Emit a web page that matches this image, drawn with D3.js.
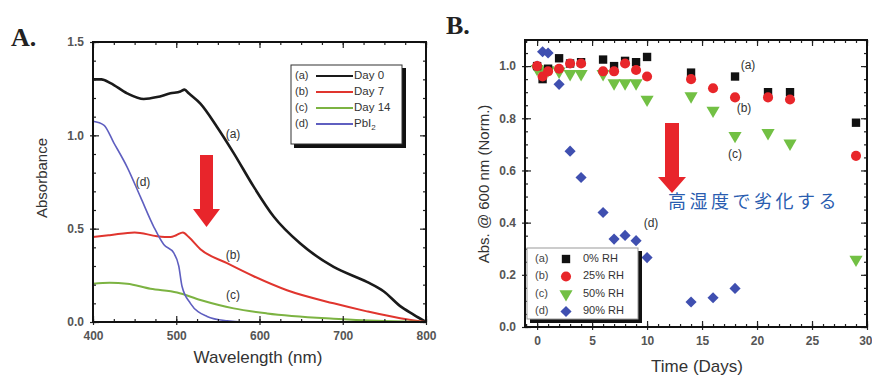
<!DOCTYPE html>
<html><head><meta charset="utf-8">
<script src="https://cdn.jsdelivr.net/npm/d3@7"></script>
<style>body{margin:0;background:#fff}svg{display:block;font-family:Arial,"Liberation Sans",sans-serif}</style>
</head><body>
<svg id="c" width="872" height="383"></svg>
<script>
// Panel A: absorbance spectra [wavelength nm, absorbance]
const specDay0 = [[400,1.30],[410,1.30],[421,1.28],[441,1.225],[461,1.195],[477,1.205],[493,1.225],[505,1.235],[510,1.245],[515,1.225],[529,1.17],[549,1.045],[569,0.905],[593,0.725],[617,0.565],[649,0.42],[689,0.295],[729,0.215],[749,0.165],[769,0.085],[785,0.04],[800,0.0]];
const specDay7 = [[400,0.455],[420,0.465],[450,0.48],[477,0.46],[493,0.455],[500,0.465],[508,0.48],[515,0.455],[529,0.39],[561,0.315],[593,0.245],[633,0.17],[689,0.10],[729,0.057],[769,0.02],[800,0.0]];
const specDay14 = [[400,0.205],[420,0.21],[441,0.205],[469,0.178],[501,0.158],[529,0.118],[569,0.073],[609,0.046],[689,0.018],[750,0.006],[800,0.0]];
const specPbI2 = [[400,1.075],[413,1.055],[425,0.96],[441,0.83],[457,0.67],[473,0.51],[485,0.415],[497,0.37],[503,0.30],[507,0.19],[517,0.10],[537,0.03],[561,0.006],[580,0.0],[800,0.0]];
const specNames = ["Day 0","Day 7","Day 14","PbI"];
const specTags = ["(a)","(b)","(c)","(d)"];
const aXTicks = [400,500,600,700,800];
const aYTicks = [0.0,0.5,1.0,1.5];

// Panel B: normalized absorbance at 600 nm vs time (days)
const daysA = [0,0.5,1,2,3,4,6,7,8,9,10,14,18,21,23,29];
const rh0   = [1.0,0.95,0.99,1.03,1.01,1.015,1.025,1.0,1.02,1.015,1.035,0.975,0.96,0.90,0.90,0.783];
const daysB = [0,0.5,1,2,3,4,6,7,8,9,10,14,16,18,21,23,29];
const rh25  = [1.0,0.96,0.98,0.99,1.01,1.01,0.98,0.98,1.01,0.985,0.96,0.95,0.915,0.88,0.88,0.872,0.656];
const rh50  = [0.99,0.98,0.985,0.98,0.97,0.97,0.97,0.935,0.935,0.935,0.872,0.885,0.83,0.733,0.744,0.704,0.259];
const daysD = [0,0.5,1,2,3,4,6,7,8,9,10,14,16,18];
const rh90  = [1.0,1.055,1.05,0.93,0.674,0.573,0.439,0.337,0.351,0.331,0.266,0.096,0.112,0.148];
const rhNames = ["0% RH","25% RH","50% RH","90% RH"];
const bXTicks = [0,5,10,15,20,25,30];
const bYTicks = [0.0,0.2,0.4,0.6,0.8,1.0];

const svg = d3.select("#c");
const tickCol = "#555";

function frame(g, x, y, xMajor, xMinor, yMajor, yMinor, xFmt, yFmt){
  const [x0,x1] = x.range(), [y0,y1] = y.range();
  const ax = (sel, axis) => { sel.call(axis); sel.select(".domain").remove(); sel.selectAll("line").attr("stroke","#222").attr("stroke-width",1.2); sel.selectAll("text").attr("fill",tickCol).style("font-size","12px").style("font-weight","bold"); };
  const gx = g.append("g").attr("transform",`translate(0,${y0})`);
  ax(gx, d3.axisBottom(x).tickValues(xMinor).tickSize(-3).tickFormat(""));
  const gxt = g.append("g").attr("transform",`translate(0,${y1})`);
  ax(gxt, d3.axisTop(x).tickValues(xMinor).tickSize(-3).tickFormat(""));
  const gy = g.append("g").attr("transform",`translate(${x0},0)`);
  ax(gy, d3.axisLeft(y).tickValues(yMinor).tickSize(-3).tickFormat(""));
  const gyr = g.append("g").attr("transform",`translate(${x1},0)`);
  ax(gyr, d3.axisRight(y).tickValues(yMinor).tickSize(-3).tickFormat(""));
  const gX = g.append("g").attr("transform",`translate(0,${y0})`);
  ax(gX, d3.axisBottom(x).tickValues(xMajor).tickSizeInner(-6).tickSizeOuter(0).tickPadding(9).tickFormat(xFmt));
  gX.selectAll("line").attr("y2",-6).attr("y1",3);
  const gXt = g.append("g").attr("transform",`translate(0,${y1})`);
  ax(gXt, d3.axisTop(x).tickValues(xMajor).tickSize(-6).tickFormat(""));
  const gY = g.append("g").attr("transform",`translate(${x0},0)`);
  ax(gY, d3.axisLeft(y).tickValues(yMajor).tickSizeInner(-6).tickSizeOuter(0).tickPadding(9).tickFormat(yFmt));
  gY.selectAll("line").attr("x2",6).attr("x1",-3);
  const gYr = g.append("g").attr("transform",`translate(${x1},0)`);
  ax(gYr, d3.axisRight(y).tickValues(yMajor).tickSize(-6).tickFormat(""));
  g.append("rect").attr("x",x0).attr("y",y1).attr("width",x1-x0).attr("height",y0-y1)
    .attr("fill","none").attr("stroke","#111").attr("stroke-width",2);
  return gX;
}

// ---------- Panel A ----------
const xA = d3.scaleLinear().domain([400,800]).range([93,426]);
const yA = d3.scaleLinear().domain([0,1.5]).range([322,42]);
const gA = svg.append("g");
const line = d3.line().x(d=>xA(d[0])).y(d=>yA(d[1])).curve(d3.curveMonotoneX);
const specs = [specDay0, specDay7, specDay14, specPbI2];
const specCols = ["#1a1a1a","#e0352e","#7cb342","#5f5fc0"];
const specW = [2.6,2,2,1.6];
specs.forEach((s,i)=>{
  gA.append("path").datum(s).attr("d",line).attr("fill","none").attr("stroke",specCols[i]).attr("stroke-width",specW[i]);
});
frame(gA, xA, yA, aXTicks, d3.range(400,801,25), aYTicks, d3.range(0,1.51,0.1), d3.format("d"), d3.format(".1f"));

const tagA = [[233,135],[233,256],[233,296],[143,183]];
tagA.forEach((p,i)=>gA.append("text").attr("x",p[0]).attr("y",p[1]).attr("text-anchor","middle").attr("dominant-baseline","middle")
  .attr("fill","#333").style("font-size","12px").text(specTags[i]));

const lgA = gA.append("g");
lgA.append("rect").attr("x",294).attr("y",68).attr("width",112).attr("height",80).attr("fill","#111");
lgA.append("rect").attr("x",291).attr("y",65).attr("width",111).attr("height",79).attr("fill","#fff").attr("stroke","#333").attr("stroke-width",1);
specNames.forEach((n,i)=>{
  const yy = 76 + i*16;
  lgA.append("text").attr("x",295).attr("y",yy).attr("dominant-baseline","middle").attr("fill","#333").style("font-size","11px").text(specTags[i]);
  lgA.append("line").attr("x1",316).attr("x2",353).attr("y1",yy).attr("y2",yy).attr("stroke",specCols[i]).attr("stroke-width",2);
  const t = lgA.append("text").attr("x",354).attr("y",yy).attr("dominant-baseline","middle").attr("fill","#333").style("font-size","11.5px").text(n);
  if(i===3) t.append("tspan").attr("dy",4).style("font-size","8px").text("2");
});

gA.append("text").attr("x",258).attr("y",363).attr("text-anchor","middle").attr("fill","#333").style("font-size","17px").text("Wavelength (nm)");
gA.append("text").attr("transform","translate(47,178) rotate(-90)").attr("text-anchor","middle").attr("fill","#333").style("font-size","15px").text("Absorbance");
gA.append("text").attr("x",11).attr("y",46).attr("fill","#222").style("font-family","'Liberation Serif','DejaVu Serif',serif").style("font-weight","bold").style("font-size","26px").text("A.");

gA.append("path").attr("d","M200,155 L213,155 L213,209 L220,209 L206.5,227 L193,209 L200,209 Z").attr("fill","#e8252b");

// ---------- Panel B ----------
const xB = d3.scaleLinear().domain([-1.1,30]).range([525,867]);
const yB = d3.scaleLinear().domain([0,1.1]).range([327,40]);
const gB = svg.append("g");
const gBx = frame(gB, xB, yB, bXTicks, d3.range(-1,31,1), bYTicks, d3.range(0,1.101,0.05), d3.format("d"), d3.format(".1f"));
gBx.selectAll(".tick").filter(d=>d===30).select("text").attr("text-anchor","end").attr("dx",5);

const mCols = ["#111","#e8262a","#72c044","#3f4fb0"];
const symTypes = [d3.symbolSquare, d3.symbolCircle, d3.symbolTriangle, d3.symbolSquare];
const symSizes = [70,80,75,62];
const symRot = [""," ","rotate(180)","rotate(45)"];
const series = [[daysA,rh0],[daysB,rh25],[daysB,rh50],[daysD,rh90]];
[3,2,0,1].forEach(i=>{
  const [dx,dy] = series[i];
  const sym = d3.symbol().type(symTypes[i]).size(symSizes[i]);
  gB.append("g").selectAll("path").data(dx.map((d,k)=>[d,dy[k]])).join("path")
    .attr("d",sym).attr("fill",mCols[i])
    .attr("transform",d=>`translate(${xB(d[0])},${yB(d[1])}) ${symRot[i]}`);
});

const tagB = [[748,66],[744,109],[735,155],[651,224]];
tagB.forEach((p,i)=>gB.append("text").attr("x",p[0]).attr("y",p[1]).attr("text-anchor","middle").attr("dominant-baseline","middle")
  .attr("fill","#333").style("font-size","12px").text(specTags[i]));

const lgB = gB.append("g");
lgB.append("rect").attr("x",530).attr("y",251).attr("width",112).attr("height",72).attr("fill","#111");
lgB.append("rect").attr("x",527).attr("y",248).attr("width",111).attr("height",71).attr("fill","#fff").attr("stroke","#999").attr("stroke-width",1);
rhNames.forEach((n,i)=>{
  const yy = 259 + i*17.5;
  lgB.append("text").attr("x",535).attr("y",yy).attr("dominant-baseline","middle").attr("fill","#444").style("font-size","11px").text(specTags[i]);
  lgB.append("path").attr("d",d3.symbol().type(symTypes[i]).size(symSizes[i])).attr("fill",mCols[i])
    .attr("transform",`translate(566,${yy}) ${symRot[i]}`);
  lgB.append("text").attr("x",583).attr("y",yy).attr("dominant-baseline","middle").attr("fill","#333").style("font-size","11px").text(n);
});

gB.append("text").attr("x",697).attr("y",372).attr("text-anchor","middle").attr("fill","#333").style("font-size","17px").text("Time (Days)");
gB.append("text").attr("transform","translate(489,184) rotate(-90)").attr("text-anchor","middle").attr("fill","#333").style("font-size","15px").text("Abs. @ 600 nm (Norm.)");
gB.append("text").attr("x",446).attr("y",34).attr("fill","#222").style("font-family","'Liberation Serif','DejaVu Serif',serif").style("font-weight","bold").style("font-size","26px").text("B.");

gB.append("path").attr("d","M665,123 L679,123 L679,177 L686,177 L672,193 L658,177 L665,177 Z").attr("fill","#e8252b");
gB.append("text").attr("x",668).attr("y",208).attr("fill","#2a5db0").style("font-family","'Noto Sans CJK JP',sans-serif").style("font-size","18px").style("letter-spacing","3.5px").text("高湿度で劣化する");
</script>
</body></html>
